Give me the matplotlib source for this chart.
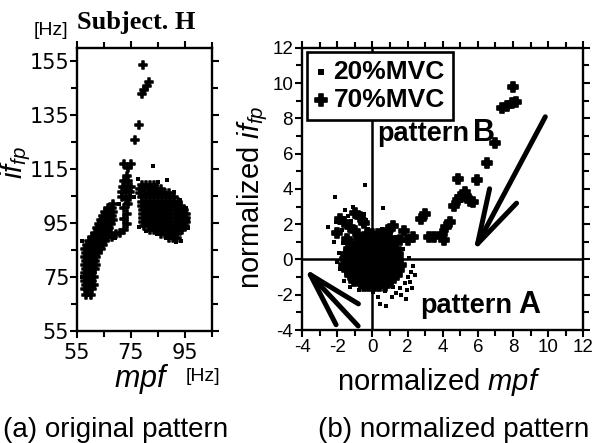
import numpy as np
import matplotlib
matplotlib.use("Agg")
import matplotlib.pyplot as plt
from matplotlib.ticker import FixedLocator

plt.rcParams['font.family'] = ['Liberation Sans', 'DejaVu Sans']
plt.rcParams['mathtext.fontset'] = 'custom'
plt.rcParams['mathtext.it'] = 'Liberation Sans:italic'
plt.rcParams['mathtext.rm'] = 'Liberation Sans'
plt.rcParams['axes.unicode_minus'] = False

# ---- (a) original pattern: (mpf, ifp) in Hz ----
band_70 = [
    (58.5, 68.5), (60, 68.5),
    (57.8, 70.5), (59.2, 70.5), (60.6, 70.5),
    (58.5, 72), (60, 72), (61.3, 72),
    (57.8, 73.5), (59.2, 73.5), (60.6, 73.5),
    (58.5, 75), (60, 75), (61.3, 75),
    (57.8, 76.5), (59.2, 76.5), (60.6, 76.5),
    (58.5, 78), (60, 78), (61.5, 78),
    (57.8, 79.5), (59.2, 79.5), (60.6, 79.5), (62, 79.5),
    (58.5, 81), (60, 81), (61.5, 81),
    (57.8, 82.5), (59.2, 82.5), (60.6, 82.5), (62, 82.5),
    (58.5, 84), (60, 84), (61.5, 84), (62.8, 84),
    (58, 85.5), (59.5, 85.5), (61, 85.5), (62.5, 85.5), (63.8, 85.5),
    (58.8, 87), (60.3, 87), (61.8, 87), (63.3, 87), (64.6, 87),
    (59.5, 88.5), (61, 88.5), (62.5, 88.5), (64, 88.5), (65.5, 88.5),
    (60.5, 90), (62, 90), (63.5, 90), (65, 90), (66.5, 90), (68, 90),
    (61.5, 91.5), (63, 91.5), (64.5, 91.5), (66, 91.5), (67.5, 91.5),
    (62.3, 93), (63.8, 93), (65.3, 93), (66.8, 93),
    (63, 94.5), (64.5, 94.5), (66, 94.5), (67.5, 94.5),
    (64, 96), (65.5, 96), (67, 96), (68.3, 96),
    (64.8, 97.5), (66.3, 97.5), (67.8, 97.5),
    (65.5, 99), (67, 99), (68.5, 99),
    (66.5, 100.5), (68, 100.5), (68.5, 102),
    (69.5, 91), (71, 91.5), (72.5, 92.5), (73.5, 94.5), (72.5, 96.5),
    (73.5, 98.5), (72.5, 100.5), (74, 102),
]
peak_70 = [
    (71.5, 104.5), (73, 104), (74.5, 104.5), (71.5, 106.5), (73, 106.5),
    (74.5, 106.5), (72, 108.5), (73.5, 108.5), (75, 108.5), (72.5, 110.5),
    (74, 110.5), (73.5, 112.5), (72.5, 117), (75, 117), (73.8, 115.5),
    (76.6, 126), (77.9, 131.5), (79, 143), (80, 144.5), (81, 146),
    (81.8, 147.5), (79.5, 153.5),
]
right_70 = [
    (79, 109), (80.5, 109), (82, 109), (83.5, 109),
    (78.5, 107.5), (80, 107.5), (81.5, 107.5), (83, 107.5), (84.5, 107.5), (86, 107.5),
    (78.5, 106), (80, 106), (81.5, 106), (83, 106), (84.5, 106), (86, 106), (87.5, 106), (89, 106),
    (79, 104.5), (80.5, 104.5), (82, 104.5), (83.5, 104.5), (85, 104.5), (86.5, 104.5),
    (88, 104.5), (89.5, 104.5), (91, 104.5),
    (79, 103), (80.5, 103), (82, 103), (83.5, 103), (85, 103), (86.5, 103), (88, 103),
    (89.5, 103), (91, 103), (92.5, 103),
    (79, 101.5), (80.5, 101.5), (82, 101.5), (83.5, 101.5), (85, 101.5), (86.5, 101.5),
    (88, 101.5), (89.5, 101.5), (91, 101.5), (92.5, 101.5), (93.5, 101.5),
    (79.5, 100), (81, 100), (82.5, 100), (84, 100), (85.5, 100), (87, 100), (88.5, 100),
    (90, 100), (91.5, 100), (93, 100), (94.5, 100),
    (79.5, 98.5), (81, 98.5), (82.5, 98.5), (84, 98.5), (85.5, 98.5), (87, 98.5),
    (88.5, 98.5), (90, 98.5), (91.5, 98.5), (93, 98.5), (94.5, 98.5), (95.5, 98.5),
    (79.5, 97), (81, 97), (82.5, 97), (84, 97), (85.5, 97), (87, 97), (88.5, 97),
    (90, 97), (91.5, 97), (93, 97), (94.5, 97), (95.5, 97),
    (79.5, 95.5), (81, 95.5), (82.5, 95.5), (84, 95.5), (85.5, 95.5), (87, 95.5),
    (88.5, 95.5), (90, 95.5), (91.5, 95.5), (93, 95.5), (94.5, 95.5), (95.5, 95.5),
    (80, 94), (81.5, 94), (83, 94), (84.5, 94), (86, 94), (87.5, 94), (89, 94),
    (90.5, 94), (92, 94), (93.5, 94), (95, 94),
    (82, 92.5), (83.5, 92.5), (85, 92.5), (86.5, 92.5), (88, 92.5), (89.5, 92.5),
    (91, 92.5), (92.5, 92.5), (94, 92.5),
    (86, 91), (87.5, 91), (89, 91), (90.5, 91), (92, 91),
    (89, 89.5), (90.5, 89.5), (92, 89.5),
]
left_20 = [
    (83, 116), (88.5, 111), (85, 110.3), (77.5, 111.5), (91, 106.5), (93, 103.5),
    (95.5, 100.5), (96.3, 96), (96, 93), (93.5, 88.5), (91.5, 87.8), (88, 89.5),
    (84.5, 90.8), (80.5, 92), (78, 93.5), (57, 88.5), (56.8, 75), (63.5, 88),
    (69, 89.5), (70.5, 102), (76, 104.5),
]

# ---- (b) normalized pattern: (normalized mpf, normalized ifp) ----
core_70 = [
    (-0.3, 1.45), (0.0, 1.45), (0.3, 1.45), (0.6, 1.45),
    (-0.75, 1.2), (-0.45, 1.2), (-0.15, 1.2), (0.15, 1.2), (0.45, 1.2), (0.75, 1.2), (1.0, 1.2),
    (-1.2, 0.9), (-0.9, 0.9), (-0.6, 0.9), (-0.3, 0.9), (0.0, 0.9), (0.3, 0.9), (0.6, 0.9),
    (0.9, 0.9), (1.2, 0.9),
    (-1.35, 0.6), (-1.05, 0.6), (-0.75, 0.6), (-0.45, 0.6), (-0.15, 0.6), (0.15, 0.6),
    (0.45, 0.6), (0.75, 0.6), (1.05, 0.6), (1.35, 0.6),
    (-1.5, 0.3), (-1.2, 0.3), (-0.9, 0.3), (-0.6, 0.3), (-0.3, 0.3), (0.0, 0.3), (0.3, 0.3),
    (0.6, 0.3), (0.9, 0.3), (1.2, 0.3), (1.45, 0.3),
    (-1.55, 0.0), (-1.25, 0.0), (-0.95, 0.0), (-0.65, 0.0), (-0.35, 0.0), (-0.05, 0.0),
    (0.25, 0.0), (0.55, 0.0), (0.85, 0.0), (1.15, 0.0), (1.45, 0.0),
    (-1.6, -0.3), (-1.3, -0.3), (-1.0, -0.3), (-0.7, -0.3), (-0.4, -0.3), (-0.1, -0.3),
    (0.2, -0.3), (0.5, -0.3), (0.8, -0.3), (1.1, -0.3), (1.4, -0.3), (1.65, -0.3),
    (-1.45, -0.6), (-1.15, -0.6), (-0.85, -0.6), (-0.55, -0.6), (-0.25, -0.6), (0.05, -0.6),
    (0.35, -0.6), (0.65, -0.6), (0.95, -0.6), (1.25, -0.6), (1.5, -0.6),
    (-1.3, -0.9), (-1.0, -0.9), (-0.7, -0.9), (-0.4, -0.9), (-0.1, -0.9), (0.2, -0.9),
    (0.5, -0.9), (0.8, -0.9), (1.1, -0.9), (1.4, -0.9),
    (-1.05, -1.2), (-0.75, -1.2), (-0.45, -1.2), (-0.15, -1.2), (0.15, -1.2), (0.45, -1.2),
    (0.75, -1.2), (1.05, -1.2),
    (-0.5, -1.5), (-0.2, -1.5), (0.1, -1.5), (0.4, -1.5), (0.7, -1.5),
]
upper_left_70 = [
    (-0.98, 2.62), (-0.69, 2.43), (-1.64, 2.15), (-1.26, 1.86), (-2.0, 1.5),
    (-1.45, 1.15), (-0.5, 2.05), (-1.85, 2.3), (-1.0, 1.6),
]
chain_70 = [
    (0.9, 1.7), (1.2, 1.9), (1.6, 1.1), (1.8, 1.6), (2.0, 1.1), (2.3, 1.3), (2.75, 2.3),
    (3.0, 2.6), (3.2, 1.3), (3.5, 1.3), (3.95, 1.45), (4.05, 1.1), (4.2, 1.85), (4.4, 2.15),
    (4.65, 3.05), (4.85, 3.35), (5.0, 3.55), (5.25, 3.85), (5.35, 3.6), (5.55, 3.3),
    (5.75, 3.25), (4.9, 4.55), (5.95, 4.5), (6.5, 5.45), (7.0, 6.6), (7.4, 8.6),
    (7.65, 8.7), (7.95, 8.85), (8.2, 8.95), (8.0, 9.8),
]
norm_20 = [
    (-2.15, 3.55), (-0.4, 4.2), (0.6, 2.9), (-2.5, 1.85), (0.45, -2.55), (0.8, -2.65),
    (1.1, -2.1), (1.35, -1.9), (1.55, -1.6), (1.85, -1.35), (2.0, -1.0), (2.2, -0.7),
    (2.3, -0.35), (1.65, -2.0), (1.95, -1.75), (2.15, -1.25), (1.2, -1.55), (-1.85, -0.55),
    (-1.9, 0.35), (-1.7, 0.95), (-2.0, -0.15), (-1.6, -1.2), (-1.3, -1.55), (-0.75, -1.75),
    (0.05, -1.85), (0.3, -2.1), (1.75, 0.6), (1.35, 1.25), (1.05, 1.55), (0.55, 1.75),
    (-0.25, 1.75), (-0.95, 1.45), (-1.4, 2.45), (-1.1, 2.95), (-0.8, 2.65), (-1.55, 2.8),
    (-2.05, 2.1), (-1.75, 1.7), (-0.35, 2.25), (1.55, 0.95), (2.1, 0.1), (2.4, -0.9),
    (1.9, -2.25), (2.25, -1.6), (0.7, -1.8), (-0.45, 2.6), (-2.2, 1.0), (-1.2, 2.2),
    (-0.55, 1.95),
]

orig_70 = np.array(band_70 + peak_70 + right_70)
orig_20 = np.array(left_20)
norm_70 = np.array(core_70 + upper_left_70 + chain_70)
norm_20a = np.array(norm_20)

fig = plt.figure(figsize=(5.97, 4.43), dpi=100)
ax1 = fig.add_axes([0.129, 0.253, 0.226, 0.639])
ax2 = fig.add_axes([0.506, 0.255, 0.471, 0.637])

# (a)
ax1.scatter(orig_70[:, 0], orig_70[:, 1], marker='P', s=36, linewidths=1.1,
            facecolor='k', edgecolor='k')
ax1.scatter(orig_20[:, 0], orig_20[:, 1], marker='s', s=7, linewidths=0, color='k')
ax1.set_xlim(55, 105)
ax1.set_ylim(55, 160)
ax1.xaxis.set_major_locator(FixedLocator([55, 75, 95]))
ax1.xaxis.set_minor_locator(FixedLocator([65, 85, 105]))
ax1.yaxis.set_major_locator(FixedLocator([55, 75, 95, 115, 135, 155]))
ax1.yaxis.set_minor_locator(FixedLocator([65, 85, 105, 125, 145]))
ax1.tick_params(which='both', direction='out', top=True, right=True, width=1.5,
                labelsize=15, labelfontfamily='Liberation Sans Narrow')
ax1.tick_params(which='major', length=5)
ax1.tick_params(which='minor', length=4)
ax1.tick_params(axis='y', pad=0.5)
ax1.tick_params(axis='x', pad=4)

# (b)
ax2.axhline(0, color='k', lw=1.8, zorder=1)
ax2.axvline(0, color='k', lw=1.8, zorder=1)
sc70 = ax2.scatter(norm_70[:, 0], norm_70[:, 1], marker='P', s=52, linewidths=1.2,
                   facecolor='k', edgecolor='k', zorder=3)
sc20 = ax2.scatter(norm_20a[:, 0], norm_20a[:, 1], marker='s', s=8, linewidths=0,
                   color='k', zorder=3)
ax2.set_xlim(-4, 12)
ax2.set_ylim(-4, 12)
ax2.xaxis.set_major_locator(FixedLocator(np.arange(-4, 13, 2)))
ax2.xaxis.set_minor_locator(FixedLocator(np.arange(-3, 12, 2)))
ax2.yaxis.set_major_locator(FixedLocator(np.arange(-4, 13, 2)))
ax2.yaxis.set_minor_locator(FixedLocator(np.arange(-3, 12, 2)))
ax2.tick_params(which='both', direction='out', top=True, right=True, width=1.5, labelsize=13.5)
ax2.tick_params(which='major', length=5)
ax2.tick_params(which='minor', length=4)
ax2.tick_params(axis='y', pad=1.5)
ax2.tick_params(axis='x', pad=1.5)

for ax in (ax1, ax2):
    for sp in ax.spines.values():
        sp.set_linewidth(1.7)

arrow_style = '->,head_length=3.9,head_width=1.1'
ax2.annotate('', xy=(5.74, 0.43), xytext=(9.84, 8.09),
             arrowprops=dict(arrowstyle=arrow_style, lw=3.6, color='k',
                             mutation_scale=10, shrinkA=0, shrinkB=0))
ax2.annotate('', xy=(-3.89, -0.48), xytext=(-0.81, -3.77),
             arrowprops=dict(arrowstyle=arrow_style, lw=3.6, color='k',
                             mutation_scale=10, shrinkA=0, shrinkB=0))

ax2.text(0.25, 6.69, 'pattern', fontsize=19.5, fontweight='bold', va='baseline', ha='left')
ax2.text(5.75, 6.69, 'B', fontsize=22, fontweight='bold', va='baseline', ha='left')
ax2.text(2.72, -3.05, 'pattern', fontsize=19.5, fontweight='bold', va='baseline', ha='left')
ax2.text(8.31, -3.05, 'A', fontsize=22, fontweight='bold', va='baseline', ha='left')

leg = ax2.legend(handles=[sc20, sc70], labels=['20%MVC', '70%MVC'], loc='upper left',
                 bbox_to_anchor=(0.018, 0.986), borderaxespad=0, frameon=True,
                 fancybox=False, edgecolor='k', framealpha=1,
                 prop={'weight': 'bold', 'size': 19}, handlelength=0.45,
                 handletextpad=0.25, borderpad=0.3, labelspacing=0.15)
leg.get_frame().set_linewidth(1.9)
leg.legend_handles[0].set_sizes([16])
leg.legend_handles[1].set_sizes([75])

# figure texts
fig.text(0.0854, 0.932, '[Hz]', fontsize=14, ha='center', va='center')
fig.text(0.129, 0.9345, 'Subject. H', fontsize=19, fontweight='bold',
         family=['Liberation Serif', 'DejaVu Serif'], ha='left', va='baseline')
fig.text(0.027, 0.632, r'$if_{fp}$', fontsize=21, rotation=90, ha='center', va='center')
fig.text(0.237, 0.126, r'$mpf$', fontsize=22, ha='center', va='baseline')
fig.text(0.340, 0.151, '[Hz]', fontsize=14, ha='center', va='center')
fig.text(0.424, 0.555, r'normalized $if_{fp}$', fontsize=21, rotation=90, ha='center', va='center')
fig.text(0.735, 0.1196, r'normalized $mpf$', fontsize=21, ha='center', va='baseline')
fig.text(0.005, 0.0135, '(a) original pattern', fontsize=20, ha='left', va='baseline')
fig.text(0.533, 0.0135, '(b) normalized pattern', fontsize=20, ha='left', va='baseline')

fig.savefig('out.png', dpi=100)
